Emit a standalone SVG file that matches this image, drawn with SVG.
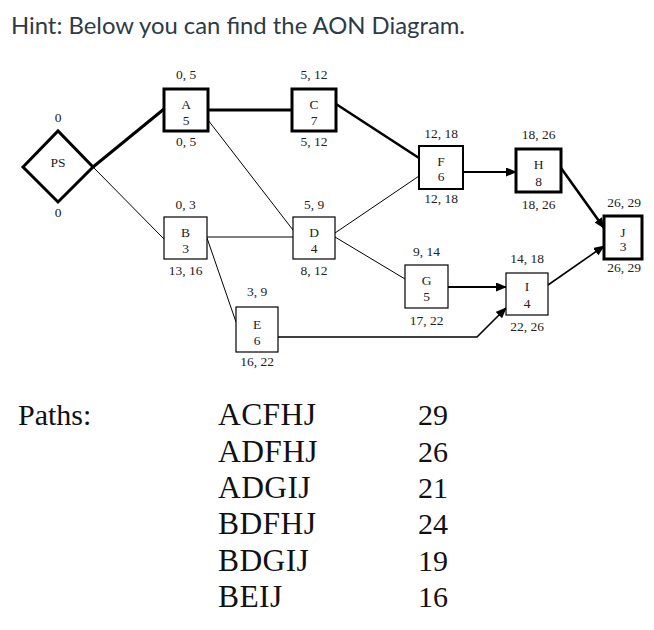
<svg xmlns="http://www.w3.org/2000/svg" width="654" height="630" viewBox="0 0 654 630">
<style>
.lbl{font-family:"Liberation Serif","Times New Roman",serif;font-size:13.5px;fill:#222;text-anchor:middle}
.box{fill:#fff;stroke:#000}
.thick{stroke-width:3}
.med{stroke-width:2}
.thin{stroke-width:1.2}
.ln{fill:none;stroke:#000}
.big{font-family:"Liberation Serif","Times New Roman",serif;font-size:30px;fill:#111}
.pth{font-family:"Liberation Serif","Times New Roman",serif;font-size:31.5px;fill:#111;letter-spacing:0.4px}
.title{font-family:Lato,"Open Sans",sans-serif;font-size:22.5px;fill:#2d3b45}
</style>
<defs>
<marker id="ah" markerUnits="userSpaceOnUse" markerWidth="11" markerHeight="9" refX="10" refY="4.5" orient="auto">
<path d="M0,0 L11,4.5 L0,9 Z" fill="#000"/>
</marker>
</defs>
<rect width="654" height="630" fill="#fff"/>
<text class="title" x="11" y="34" textLength="454" lengthAdjust="spacingAndGlyphs">Hint: Below you can find the AON Diagram.</text>

<g id="connectors">
<line class="ln" stroke-width="3" x1="93" y1="167" x2="164" y2="109"/>
<line class="ln" stroke-width="1" x1="93" y1="167" x2="164" y2="239"/>
<line class="ln" stroke-width="3" x1="208" y1="110" x2="292" y2="110"/>
<line class="ln" stroke-width="1" x1="208" y1="120" x2="293" y2="230"/>
<line class="ln" stroke-width="2.6" x1="336" y1="104" x2="419" y2="158"/>
<line class="ln" stroke-width="1.2" x1="207" y1="237" x2="293" y2="237"/>
<line class="ln" stroke-width="1" x1="207" y1="238" x2="236" y2="322"/>
<line class="ln" stroke-width="1" x1="335" y1="233" x2="419" y2="176"/>
<line class="ln" stroke-width="1" x1="335" y1="237" x2="405" y2="279"/>
<line class="ln" stroke-width="2" x1="463" y1="172" x2="516" y2="172" marker-end="url(#ah)"/>
<line class="ln" stroke-width="2.6" x1="561" y1="168" x2="604" y2="228" marker-end="url(#ah)"/>
<line class="ln" stroke-width="1.8" x1="448" y1="287" x2="506" y2="287" marker-end="url(#ah)"/>
<polyline class="ln" stroke-width="1.6" points="278,337 477,337 506,308" marker-end="url(#ah)"/>
<line class="ln" stroke-width="1.6" x1="548" y1="285" x2="604" y2="246" marker-end="url(#ah)"/>
</g>

<g id="PS">
<polygon class="box thick" points="23,167 58,131 93,167 58,202"/>
<text class="lbl" x="58" y="167">PS</text>
<text class="lbl" x="58" y="122">0</text>
<text class="lbl" x="58" y="217">0</text>
</g>
<g id="A">
<rect class="box thick" x="164" y="89" width="44" height="42"/>
<text class="lbl" x="186" y="109">A</text>
<text class="lbl" x="186" y="125">5</text>
<text class="lbl" x="186" y="79">0, 5</text>
<text class="lbl" x="186" y="146">0, 5</text>
</g>
<g id="C">
<rect class="box thick" x="292" y="89" width="44" height="42"/>
<text class="lbl" x="314" y="109">C</text>
<text class="lbl" x="314" y="125">7</text>
<text class="lbl" x="314" y="79">5, 12</text>
<text class="lbl" x="314" y="146">5, 12</text>
</g>
<g id="B">
<rect class="box thin" x="164" y="217" width="43" height="42"/>
<text class="lbl" x="185.5" y="237">B</text>
<text class="lbl" x="185.5" y="253">3</text>
<text class="lbl" x="185.5" y="209">0, 3</text>
<text class="lbl" x="185.5" y="275">13, 16</text>
</g>
<g id="D">
<rect class="box thin" x="293" y="217" width="42" height="42"/>
<text class="lbl" x="314" y="237">D</text>
<text class="lbl" x="314" y="253">4</text>
<text class="lbl" x="314" y="209">5, 9</text>
<text class="lbl" x="314" y="275">8, 12</text>
</g>
<g id="E">
<rect class="box thin" x="236" y="307" width="42" height="45"/>
<text class="lbl" x="257" y="329">E</text>
<text class="lbl" x="257" y="345">6</text>
<text class="lbl" x="257" y="296">3, 9</text>
<text class="lbl" x="257" y="366">16, 22</text>
</g>
<g id="F">
<rect class="box med" x="419" y="146" width="44" height="43"/>
<text class="lbl" x="441" y="166">F</text>
<text class="lbl" x="441" y="181">6</text>
<text class="lbl" x="441" y="138">12, 18</text>
<text class="lbl" x="441" y="203">12, 18</text>
</g>
<g id="G">
<rect class="box thin" x="405" y="265" width="43" height="43"/>
<text class="lbl" x="426.5" y="285">G</text>
<text class="lbl" x="426.5" y="301">5</text>
<text class="lbl" x="426.5" y="256">9, 14</text>
<text class="lbl" x="426.5" y="325">17, 22</text>
</g>
<g id="H">
<rect class="box thick" x="516" y="149" width="45" height="43"/>
<text class="lbl" x="538.5" y="169">H</text>
<text class="lbl" x="538.5" y="186">8</text>
<text class="lbl" x="538.5" y="139">18, 26</text>
<text class="lbl" x="538.5" y="209">18, 26</text>
</g>
<g id="I">
<rect class="box thin" x="506" y="273" width="42" height="42"/>
<text class="lbl" x="527" y="291">I</text>
<text class="lbl" x="527" y="308">4</text>
<text class="lbl" x="527" y="263">14, 18</text>
<text class="lbl" x="527" y="331">22, 26</text>
</g>
<g id="J">
<rect class="box thick" x="604" y="216" width="38" height="43"/>
<text class="lbl" x="623" y="237">J</text>
<text class="lbl" x="623" y="251">3</text>
<text class="lbl" x="624" y="207">26, 29</text>
<text class="lbl" x="624" y="272">26, 29</text>
</g>

<g id="paths">
<text class="big" x="18" y="425">Paths:</text>
<text class="pth" x="218" y="425">ACFHJ</text>
<text class="pth" x="218" y="461.5">ADFHJ</text>
<text class="pth" x="218" y="498">ADGIJ</text>
<text class="pth" x="218" y="534">BDFHJ</text>
<text class="pth" x="218" y="570.5">BDGIJ</text>
<text class="pth" x="218" y="607">BEIJ</text>
<text class="big" x="418" y="425">29</text>
<text class="big" x="418" y="461.5">26</text>
<text class="big" x="418" y="498">21</text>
<text class="big" x="418" y="534">24</text>
<text class="big" x="418" y="570.5">19</text>
<text class="big" x="418" y="607">16</text>
</g>
</svg>
